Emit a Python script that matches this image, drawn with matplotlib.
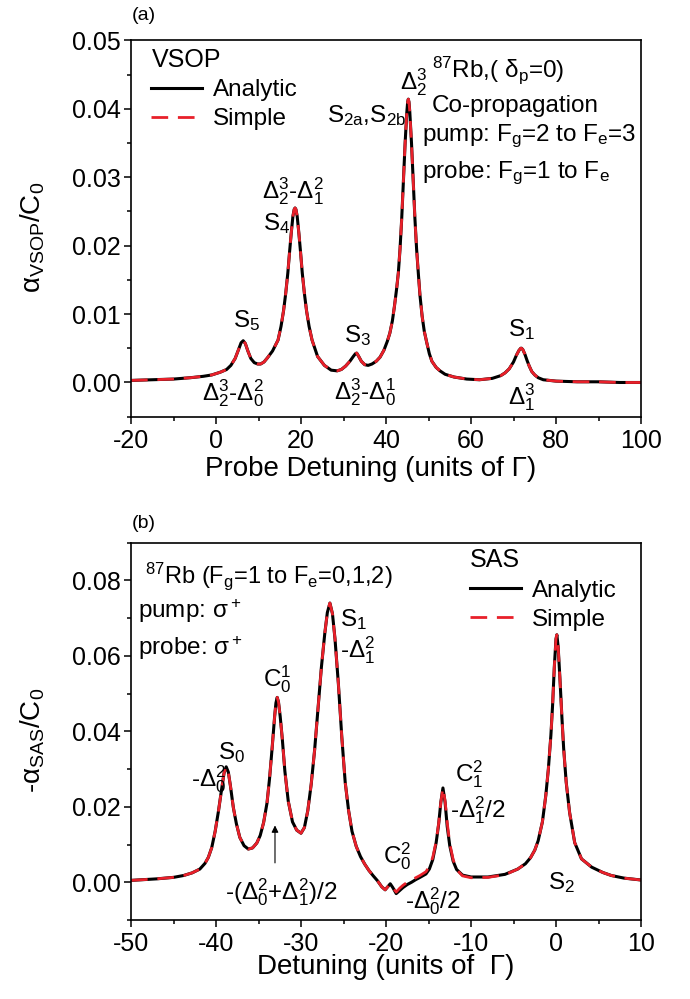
import matplotlib
matplotlib.use('Agg')
from matplotlib import pyplot as plt
from matplotlib.ticker import MultipleLocator

plt.rcParams['font.family'] = ['Liberation Sans', 'DejaVu Sans']
plt.rcParams['mathtext.fontset'] = 'custom'
plt.rcParams['mathtext.rm'] = 'Liberation Sans'
plt.rcParams['mathtext.it'] = 'Liberation Sans:italic'
plt.rcParams['axes.unicode_minus'] = False

# (a) VSOP spectrum
vsop_x = [-20, -15, -10, -6, -3, -1, 1, 2.5, 3.5, 4.5, 5.3, 5.9, 6.4, 6.9, 7.5, 8.2, 9.0, 9.8,
          10.5, 11.3, 12.1, 13.3, 14.6, 15.3, 15.9, 16.4, 16.9, 17.3, 17.7, 18.1, 18.4, 18.6,
          18.8, 19.1, 19.5, 19.9, 20.3, 20.8, 21.3, 21.9, 22.6, 23.9, 25.5, 27.1, 28.5, 29.5,
          30.5, 31.5, 32.3, 32.8, 33.1, 33.5, 34.2, 35.0, 35.8, 36.7, 37.7, 38.6, 39.5, 40.3,
          40.9, 41.5, 42.0, 42.5, 42.9, 43.3, 43.7, 44.1, 44.5, 44.9, 45.1, 45.25, 45.4, 45.6,
          46.0, 46.4, 46.8, 47.2, 47.6, 48.0, 48.5, 49.0, 49.6, 50.2, 50.8, 51.8, 52.7, 53.9,
          56, 59, 62, 65, 67, 68, 69, 70, 70.7, 71.3, 71.7, 71.9, 72.2, 72.7, 73.2, 73.7, 74.3,
          75, 75.8, 77, 80, 85, 90, 95, 100]
vsop_analytic = [0.0003, 0.0004, 0.0005, 0.0007, 0.0009, 0.0011, 0.0015, 0.0019, 0.0025, 0.0035,
                 0.0048, 0.0058, 0.0061, 0.0057, 0.0046, 0.0035, 0.0029, 0.0027, 0.0027, 0.0030,
                 0.0036, 0.0046, 0.0062, 0.0082, 0.0105, 0.0130, 0.0160, 0.0190, 0.0218, 0.0243,
                 0.0253, 0.0255, 0.0253, 0.0243, 0.0218, 0.0190, 0.0160, 0.0130, 0.0105, 0.0082,
                 0.0062, 0.0038, 0.0025, 0.0018, 0.0017, 0.0019, 0.0024, 0.0031, 0.0038, 0.0042,
                 0.0043, 0.0039, 0.0031, 0.0026, 0.0025, 0.0027, 0.0031, 0.0037, 0.0047, 0.0060,
                 0.0072, 0.0090, 0.0112, 0.0137, 0.0160, 0.0195, 0.0240, 0.0295, 0.0350, 0.0395,
                 0.0410, 0.0414, 0.0410, 0.0395, 0.0350, 0.0295, 0.0240, 0.0195, 0.0160, 0.0127,
                 0.0097, 0.0075, 0.0058, 0.0042, 0.0031, 0.0022, 0.0017, 0.0012, 0.0008, 0.0005,
                 0.0004, 0.0006, 0.0010, 0.0014, 0.0020, 0.0030, 0.0040, 0.0047, 0.0050, 0.0050,
                 0.0048, 0.0041, 0.0032, 0.0024, 0.0016, 0.0011, 0.0007, 0.0004, 0.0002, 0.0001,
                 0.0001, 0.0, 0.0]
vsop_simple = list(vsop_analytic)  # indistinguishable from the analytic curve

# (b) SAS spectrum
sas_x = [-50, -47, -45, -43.8, -42.8, -41.9, -41.3, -40.9, -40.5, -40.1, -39.7, -39.35, -39.05,
         -38.8, -38.55, -38.3, -37.96, -37.6, -37.2, -36.7, -36.2, -35.7, -35.2, -34.8, -34.4,
         -34.0, -33.7, -33.4, -33.1, -32.95, -32.8, -32.65, -32.45, -32.2, -31.9, -31.5, -31.0,
         -30.5, -30.0, -29.6, -29.2, -28.8, -28.4, -28.0, -27.6, -27.2, -26.9, -26.6, -26.3,
         -26.0, -25.6, -25.2, -24.8, -24.4, -24.0, -23.5, -23.0, -22.5, -22.0, -21.5, -21.0,
         -20.5, -20.1, -19.8, -19.5, -19.2, -18.8, -18.4, -18.0, -17.5, -17.0, -16.5, -16.0,
         -15.3, -14.9, -14.5, -14.1, -13.8, -13.55, -13.3, -13.05, -12.8, -12.5, -12.1, -11.7,
         -11.0, -10.0, -8.0, -6.0, -4.5, -3.6, -3.0, -2.5, -2.1, -1.6, -1.2, -0.9, -0.6, -0.4,
         -0.2, 0.0, 0.1, 0.25, 0.45, 0.7, 0.9, 1.2, 1.6, 2.2, 3.0, 4.2, 5.5, 6.5, 8.0, 10.0]
sas_analytic = [0.0005, 0.0009, 0.0013, 0.0018, 0.0025, 0.0035, 0.0050, 0.0066, 0.0092, 0.0135,
                0.0190, 0.0245, 0.0290, 0.0306, 0.0292, 0.0255, 0.0198, 0.0155, 0.0119, 0.0097,
                0.0088, 0.0091, 0.0104, 0.0124, 0.0158, 0.0210, 0.0275, 0.0355, 0.0440, 0.0475,
                0.0490, 0.0478, 0.0440, 0.0380, 0.0295, 0.0215, 0.0160, 0.0138, 0.0130, 0.0145,
                0.0190, 0.0260, 0.0350, 0.0460, 0.0570, 0.0660, 0.0715, 0.0740, 0.0712, 0.0645,
                0.0525, 0.0385, 0.0265, 0.0190, 0.0135, 0.0095, 0.0068, 0.0048, 0.0031, 0.0017,
                0.0004, -0.0012, -0.0020, -0.0012, -0.0004, -0.0014, -0.0030, -0.0022, -0.0014,
                -0.0006, 0.0000, 0.0007, 0.0013, 0.0022, 0.0035, 0.0060, 0.0105, 0.0155, 0.0212,
                0.0250, 0.0212, 0.0148, 0.0097, 0.0056, 0.0034, 0.0019, 0.0014, 0.0014, 0.0021,
                0.0035, 0.0049, 0.0065, 0.0085, 0.0110, 0.0160, 0.0230, 0.0300, 0.0390, 0.0470,
                0.0570, 0.0645, 0.0656, 0.0625, 0.0545, 0.0435, 0.0355, 0.0265, 0.0185, 0.0105,
                0.0062, 0.0040, 0.0026, 0.0018, 0.0011, 0.0006]
sas_simple = [0.0005, 0.0009, 0.0013, 0.0018, 0.0025, 0.0035, 0.0050, 0.0066, 0.0092, 0.0135,
              0.0190, 0.0245, 0.0290, 0.0306, 0.0292, 0.0255, 0.0198, 0.0155, 0.0119, 0.0097,
              0.0088, 0.0091, 0.0104, 0.0124, 0.0158, 0.0210, 0.0275, 0.0355, 0.0440, 0.0475,
              0.0490, 0.0478, 0.0440, 0.0380, 0.0295, 0.0215, 0.0160, 0.0138, 0.0130, 0.0145,
              0.0190, 0.0260, 0.0350, 0.0460, 0.0570, 0.0660, 0.0715, 0.0740, 0.0712, 0.0645,
              0.0525, 0.0385, 0.0265, 0.0190, 0.0135, 0.0095, 0.0068, 0.0048, 0.0031, 0.0017,
              0.0004, -0.0012, -0.0020, -0.0012, -0.0004, -0.0014, -0.0026, -0.0016, -0.0008,
              0.0000, 0.0006, 0.0012, 0.0018, 0.0028, 0.0042, 0.0066, 0.0108, 0.0157, 0.0212,
              0.0250, 0.0216, 0.0158, 0.0103, 0.0060, 0.0034, 0.0017, 0.0012, 0.0013, 0.0020,
              0.0035, 0.0049, 0.0065, 0.0085, 0.0110, 0.0160, 0.0230, 0.0300, 0.0390, 0.0470,
              0.0570, 0.0645, 0.0656, 0.0625, 0.0545, 0.0435, 0.0355, 0.0265, 0.0185, 0.0105,
              0.0062, 0.0040, 0.0026, 0.0018, 0.0011, 0.0006]

RED = '#e8202a'
TXT = 17.5
DASH = (6, 3.5)


def style(ax, xmaj, xmin, ymaj, ymin):
	ax.xaxis.set_major_locator(MultipleLocator(xmaj))
	ax.xaxis.set_minor_locator(MultipleLocator(xmin))
	ax.yaxis.set_major_locator(MultipleLocator(ymaj))
	ax.yaxis.set_minor_locator(MultipleLocator(ymin))
	ax.tick_params(which='both', direction='out', top=False, right=False, width=1.1, labelsize=18)
	ax.tick_params(which='major', length=5)
	ax.tick_params(which='minor', length=3)
	ax.tick_params(axis='x', pad=3.5)
	ax.tick_params(axis='y', pad=2.5)
	for s in ax.spines.values():
		s.set_linewidth(1.2)


def curves(ax, x, ya, ys, title, anchor):
	la, = ax.plot(x, ya, color='k', lw=2.2, label='Analytic')
	ls, = ax.plot(x, ys, color=RED, lw=2.0, dashes=DASH, label='Simple')
	ax.legend(handles=[la, ls], title=title, loc='upper left', bbox_to_anchor=anchor,
	          frameon=False, fontsize=TXT, title_fontsize=18, alignment='left',
	          handlelength=2.1, handletextpad=0.45, labelspacing=0.3,
	          borderpad=0, borderaxespad=0)


fig = plt.figure(figsize=(6.9, 9.99), dpi=100)
W, H = 690, 999
ax1 = fig.add_axes([131/W, 1 - 416.7/H, 510/W, 376.4/H])
ax2 = fig.add_axes([131/W, 1 - 920/H, 510/W, 377.3/H])

# ---- panel (a)
curves(ax1, vsop_x, vsop_analytic, vsop_simple, 'VSOP', (0.04, 0.98))
ax1.set_xlim(-20, 100)
ax1.set_ylim(-0.005, 0.05)
style(ax1, 20, 10, 0.01, 0.005)
ax1.set_xlabel('Probe Detuning (units of Γ)', fontsize=20)
ax1.xaxis.set_label_coords(0.47, -0.105)
ax1.set_ylabel(r'$\mathregular{α_{VSOP}/C_0}$', fontsize=20)
ax1.yaxis.set_label_coords(-0.165, 0.475)

ann_a = [
	(18.1, 0.0280, r'$\mathregular{Δ^3_2}$-$\mathregular{Δ^2_1}$', 'center'),
	(17.4, 0.0232, r'$\mathregular{S_4}$', 'right'),
	(7.3, 0.0091, r'$\mathregular{S_5}$', 'center'),
	(4.0, -0.0015, r'$\mathregular{Δ^3_2}$-$\mathregular{Δ^2_0}$', 'center'),
	(33.4, 0.0068, r'$\mathregular{S_3}$', 'center'),
	(35.1, -0.0014, r'$\mathregular{Δ^3_2}$-$\mathregular{Δ^1_0}$', 'center'),
	(35.5, 0.0390, r'$\mathregular{S_{2a}}$,$\mathregular{S_{2b}}$', 'center'),
	(46.6, 0.0439, r'$\mathregular{Δ^3_2}$', 'center'),
	(72.0, 0.0077, r'$\mathregular{S_1}$', 'center'),
	(72.0, -0.0021, r'$\mathregular{Δ^3_1}$', 'center'),
]
for x, y, s, ha in ann_a:
	ax1.text(x, y, s, fontsize=TXT, ha=ha, va='center')

ax1.text(50.8, 0.0457, r'$\mathregular{^{87}}$Rb,( $\mathregular{δ_p}$=0)', fontsize=TXT, va='center')
ax1.text(50.8, 0.0404, 'Co-propagation', fontsize=TXT, va='center')
ax1.text(48.5, 0.0360, r'pump: $\mathregular{F_g}$=2 to $\mathregular{F_e}$=3', fontsize=TXT, va='center')
ax1.text(48.5, 0.0305, r'probe: $\mathregular{F_g}$=1 to $\mathregular{F_e}$', fontsize=TXT, va='center')
fig.text(132/W, 1 - 15/H, '(a)', fontsize=14, va='center')

# ---- panel (b)
curves(ax2, sas_x, sas_analytic, sas_simple, 'SAS', (0.665, 0.985))
ax2.set_xlim(-50, 10)
ax2.set_ylim(-0.01, 0.09)
style(ax2, 10, 5, 0.02, 0.01)
ax2.set_xlabel('Detuning (units of  Γ)', fontsize=20)
ax2.xaxis.set_label_coords(0.5, -0.09)
ax2.set_ylabel(r'-$\mathregular{α_{SAS}/C_0}$', fontsize=20)
ax2.yaxis.set_label_coords(-0.165, 0.477)

ann_b = [
	(-32.8, 0.0538, r'$\mathregular{C^1_0}$', 'center'),
	(-38.2, 0.0345, r'$\mathregular{S_0}$', 'center'),
	(-40.9, 0.0274, r'-$\mathregular{Δ^2_0}$', 'center'),
	(-32.35, -0.0027, r'-($\mathregular{Δ^2_0}$+$\mathregular{Δ^2_1}$)/2', 'center'),
	(-25.4, 0.0696, r'$\mathregular{S_1}$', 'left'),
	(-25.4, 0.0614, r'-$\mathregular{Δ^2_1}$', 'left'),
	(-18.7, 0.0068, r'$\mathregular{C^2_0}$', 'center'),
	(-14.5, -0.0050, r'-$\mathregular{Δ^2_0}$/2', 'center'),
	(-10.2, 0.0287, r'$\mathregular{C^2_1}$', 'center'),
	(-9.2, 0.0192, r'-$\mathregular{Δ^2_1}$/2', 'center'),
	(0.7, -0.0001, r'$\mathregular{S_2}$', 'center'),
]
for x, y, s, ha in ann_b:
	ax2.text(x, y, s, fontsize=TXT, ha=ha, va='center')

ax2.text(-48.4, 0.0810, r'$\mathregular{^{87}}$Rb ($\mathregular{F_g}$=1 to $\mathregular{F_e}$=0,1,2)',
         fontsize=17, va='center')
ax2.text(-49.2, 0.0720, r'pump: $\mathregular{σ^+}$', fontsize=TXT, va='center')
ax2.text(-49.2, 0.0620, r'probe: $\mathregular{σ^+}$', fontsize=TXT, va='center')
ax2.annotate('', xy=(-33.06, 0.0158), xytext=(-33.06, 0.0044),
             arrowprops=dict(arrowstyle='-|>', lw=0.8, color='k', mutation_scale=10))
fig.text(132/W, 1 - 524/H, '(b)', fontsize=14, va='center')

fig.savefig('out.png', dpi=100)
